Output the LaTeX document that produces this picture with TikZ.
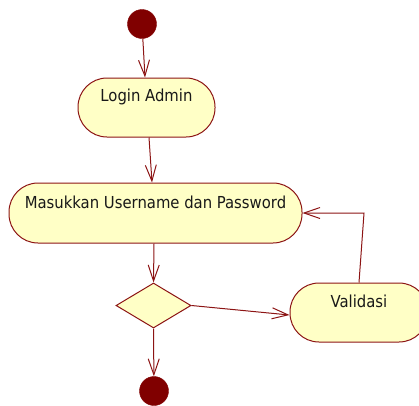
\documentclass[tikz,border=0pt]{standalone}
\usepackage{fontspec}
\setmainfont{DejaVu Sans Condensed}
\usetikzlibrary{arrows.meta,shapes.geometric}
\definecolor{umlred}{RGB}{128,0,0}
\definecolor{umlline}{RGB}{140,20,20}
\definecolor{umlfill}{RGB}{255,255,198}
\tikzset{
  flow/.style={draw=umlline, line width=1pt, -{Straight Barb[length=16pt,width=11pt,line width=1pt]}},
  actbox/.style={draw=umlline, fill=umlfill, line width=1pt, rounded corners=29pt, inner sep=0pt},
  decbox/.style={draw=umlline, fill=umlfill, line width=1pt, diamond, inner sep=0pt, minimum width=75pt, minimum height=45pt, aspect=1.667},
  dot/.style={circle, fill=umlred, draw=umlred, inner sep=0pt, minimum size=29pt},
  lbl/.style={inner sep=0pt, font=\fontsize{16.5}{19}\selectfont, text=black!90}
}
\begin{document}
\begin{tikzpicture}[x=1pt, y=-1pt]
  \useasboundingbox (0,0) rectangle (419,405);
  \clip (0,0) rectangle (419,405);

  % initial and final states
  \node[dot] (start) at (142,24) {};
  \node[dot] (final) at (154,391) {};

  % activities
  \node[actbox, minimum width=137pt, minimum height=59pt] (login) at (146.5,107.5) {};
  \node[lbl] (loginT) at ([yshift=10.5pt]login.center) {Login Admin};

  \node[actbox, minimum width=293pt, minimum height=60pt] (input) at (155.5,213) {};
  \node[lbl] (inputT) at ([yshift=11pt]input.center) {Masukkan Username dan Password};

  \node[actbox, minimum width=138pt, minimum height=59pt] (valid) at (359,312.5) {};
  \node[lbl] (validT) at ([yshift=11.5pt]valid.center) {Validasi};

  % decision
  \node[decbox] (dec) at (153.5,305.5) {};

  % transitions
  \draw[flow] (start) -- ([xshift=-1.5pt]login.north);
  \draw[flow] ([xshift=2.5pt]login.south) -- ([xshift=-3.5pt]input.north);
  \draw[flow] ([xshift=-1.5pt]input.south) -- (dec.north);
  \draw[flow] (dec.east) -- ([yshift=-2.5pt]valid.west);
  \coordinate (loopTurn) at (364,213);
  \draw[flow] (valid.north) -- (loopTurn) -- (input.east);
  \draw[flow] (dec.south) -- (final);
\end{tikzpicture}
\end{document}
